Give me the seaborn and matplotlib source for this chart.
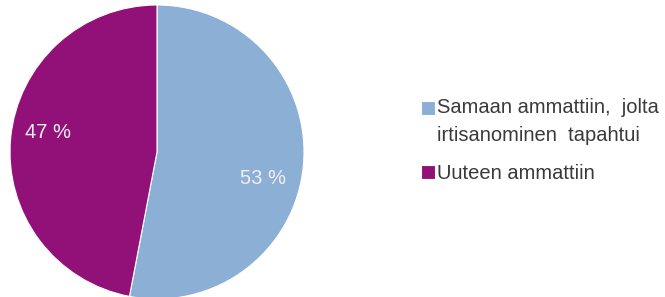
import matplotlib
matplotlib.use("Agg")
import matplotlib.pyplot as plt
import matplotlib.patches as mpatches
from matplotlib.legend_handler import HandlerPatch
import seaborn as sns

categories = ["Samaan ammattiin,  jolta\nirtisanominen  tapahtui", "Uuteen ammattiin"]
values = [53, 47]
labels = ["53 %", "47 %"]
colors = ["#8cafd6", "#921178"]

sns.set_theme(style="white")
plt.rcParams["font.family"] = ["Liberation Sans", "DejaVu Sans"]

fig = plt.figure(figsize=(6.65, 2.97), dpi=100)
ax = fig.add_axes([10 / 665, -2 / 297, 294 / 665, 294 / 297])
wedges, _ = ax.pie(values, colors=colors, startangle=90, counterclock=False,
                   radius=1, wedgeprops=dict(linewidth=0.8, edgecolor="white"))
ax.set_xlim(-1, 1)
ax.set_ylim(-1, 1)
ax.set_aspect("equal")
ax.axis("off")

label_pos = [(0.72, -0.18), (-0.74, 0.13)]
for (x, y), t in zip(label_pos, labels):
    ax.text(x, y, t, color="#f2eef5", fontsize=14.5, ha="center", va="center")


def make_handler(shift):
    def patch_func(legend, orig_handle, xdescent, ydescent, width, height, fontsize):
        return mpatches.Rectangle((-xdescent, -ydescent + shift), width, height)
    return HandlerPatch(patch_func=patch_func)


n_lines = [c.count("\n") + 1 for c in categories]
handler_map = {w: make_handler((n - 1) * 10.0) for w, n in zip(wedges, n_lines)}

leg = fig.legend(wedges, categories, loc="upper left", handler_map=handler_map,
                 bbox_to_anchor=(421 / 665, 1 - 98 / 297), frameon=False,
                 fontsize=14.5, handlelength=0.68, handleheight=0.68,
                 handletextpad=0.12, labelspacing=0.95, borderpad=0, borderaxespad=0)
for t in leg.get_texts():
    t.set_color("#3a3a3a")
    t.set_linespacing(1.6)

fig.savefig("out.png", dpi=100)
